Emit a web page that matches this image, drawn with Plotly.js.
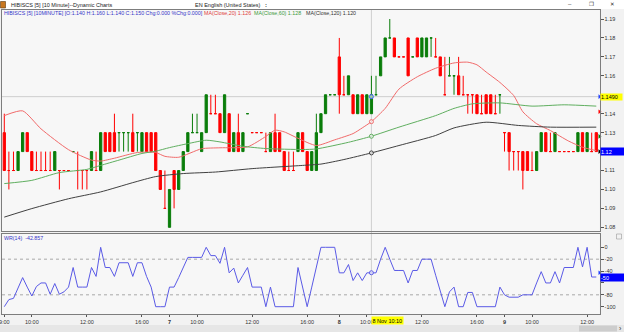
<!DOCTYPE html>
<html><head><meta charset="utf-8">
<script src="https://cdn.plot.ly/plotly-3.0.1.min.js"></script>
<style>html,body{margin:0;padding:0;background:#f0f0f0;overflow:hidden}#chart{width:624px;height:332px}</style>
</head><body><div id="chart"></div>
<script>
// ---------- data ----------
const opens = [
1.13,1.11,1.11,1.11,1.12,1.13,1.12,1.11,1.11,1.11,
1.11,1.11,1.11,1.11,1.11,1.12,1.11,1.11,1.11,1.11,
1.11,1.11,1.13,1.13,1.13,1.13,1.13,1.13,1.13,1.13,
1.12,1.13,1.13,1.13,1.11,1.09,1.08,1.11,1.10,1.11,
1.12,1.13,1.13,1.12,1.13,1.14,1.14,1.14,1.13,1.14,
1.12,1.13,1.12,1.14,1.13,1.13,1.13,1.12,1.12,1.13,
1.13,1.12,1.11,1.11,1.12,1.13,1.12,1.11,1.11,1.13,
1.14,1.15,1.15,1.17,1.15,1.15,1.15,1.14,1.15,1.14,
1.14,1.15,1.16,1.17,1.18,1.18,1.17,1.17,1.18,1.17,
1.18,1.17,1.17,1.18,1.17,1.17,1.15,1.16,1.16,1.16,
1.15,1.15,1.15,1.15,1.14,1.15,1.15,1.14,1.15,1.13,
1.13,1.12,1.12,1.12,1.12,1.11,1.11,1.12,1.13,1.12,
1.12,1.12,1.12,1.12,1.12,1.12,1.13,1.12,1.12,1.13];
const highs = [
1.14,1.12,1.12,1.12,1.13,1.13,1.12,1.12,1.12,1.12,
1.12,1.12,1.11,1.11,1.11,1.12,1.12,1.11,1.11,1.12,
1.12,1.13,1.13,1.13,1.14,1.13,1.13,1.13,1.14,1.13,
1.13,1.13,1.13,1.13,1.11,1.11,1.10,1.11,1.11,1.12,
1.13,1.14,1.14,1.13,1.15,1.15,1.15,1.14,1.15,1.14,
1.13,1.14,1.13,1.14,1.13,1.13,1.13,1.13,1.13,1.14,
1.13,1.12,1.12,1.12,1.13,1.13,1.12,1.12,1.14,1.14,
1.15,1.15,1.15,1.18,1.16,1.16,1.15,1.15,1.15,1.15,
1.16,1.16,1.17,1.18,1.19,1.18,1.17,1.17,1.18,1.17,
1.18,1.18,1.18,1.18,1.18,1.17,1.17,1.17,1.16,1.17,
1.16,1.15,1.15,1.15,1.15,1.15,1.15,1.15,1.15,1.13,
1.13,1.12,1.12,1.12,1.12,1.12,1.12,1.13,1.13,1.13,
1.13,1.12,1.12,1.12,1.12,1.13,1.13,1.13,1.13,1.13];
const lows = [
1.11,1.10,1.11,1.11,1.12,1.12,1.11,1.11,1.11,1.11,
1.11,1.11,1.10,1.11,1.11,1.12,1.10,1.10,1.10,1.11,
1.11,1.11,1.12,1.12,1.12,1.12,1.12,1.12,1.12,1.12,
1.12,1.12,1.12,1.11,1.10,1.09,1.08,1.09,1.10,1.11,
1.12,1.13,1.13,1.12,1.13,1.14,1.14,1.13,1.13,1.12,
1.12,1.12,1.12,1.14,1.13,1.13,1.13,1.12,1.12,1.12,
1.12,1.11,1.11,1.11,1.12,1.12,1.11,1.11,1.11,1.13,
1.14,1.15,1.15,1.14,1.15,1.15,1.14,1.14,1.14,1.14,
1.14,1.15,1.16,1.17,1.18,1.17,1.17,1.17,1.16,1.17,
1.17,1.17,1.17,1.17,1.17,1.16,1.15,1.16,1.15,1.15,
1.15,1.14,1.14,1.14,1.14,1.14,1.14,1.14,1.14,1.12,
1.11,1.11,1.11,1.10,1.11,1.11,1.11,1.12,1.12,1.12,
1.12,1.12,1.12,1.12,1.12,1.12,1.12,1.12,1.12,1.12];
const closes = [
1.11,1.11,1.11,1.12,1.13,1.12,1.11,1.11,1.11,1.11,
1.11,1.12,1.11,1.11,1.11,1.12,1.11,1.11,1.11,1.12,
1.11,1.13,1.12,1.12,1.12,1.13,1.13,1.13,1.12,1.13,
1.13,1.12,1.12,1.11,1.10,1.09,1.10,1.10,1.11,1.12,
1.13,1.13,1.13,1.13,1.15,1.14,1.14,1.13,1.15,1.12,
1.13,1.12,1.13,1.14,1.13,1.13,1.13,1.12,1.13,1.12,
1.12,1.11,1.11,1.11,1.13,1.12,1.11,1.12,1.13,1.14,
1.15,1.15,1.15,1.15,1.15,1.16,1.14,1.15,1.14,1.15,
1.15,1.15,1.17,1.18,1.18,1.17,1.17,1.17,1.16,1.17,
1.17,1.18,1.18,1.18,1.17,1.16,1.15,1.16,1.16,1.15,
1.15,1.15,1.15,1.14,1.14,1.14,1.14,1.14,1.15,1.13,
1.12,1.12,1.12,1.11,1.11,1.11,1.12,1.13,1.12,1.12,
1.13,1.12,1.12,1.12,1.12,1.13,1.12,1.13,1.12,1.12];
const wr = [
-100,-88,-86,-68,-51,-67,-82,-66,-60,-60,
-79,-61,-79,-75,-67,-34,-67,-67,-67,-34,
-49,0,-34,-34,-49,-26,-26,-26,-49,-26,
-26,-49,-67,-100,-100,-100,-67,-67,-51,-34,
-17,-17,-17,-17,0,-14,-14,-27,0,-43,
-35,-60,-47,-34,-67,-67,-67,-100,-67,-100,
-100,-100,-100,-100,-34,-67,-100,-67,-33,0,
0,0,0,-43,-43,-29,-56,-43,-56,-43,
-42.857,-43,-20,0,-20,-39,-39,-39,-60,-39,
-39,-20,-20,-20,-47,-75,-100,-75,-67,-100,
-100,-76,-76,-100,-100,-100,-100,-100,-67,-80,
-84,-84,-84,-80,-80,-80,-60,-41,-60,-60,
-41,-60,-34,-34,-34,0,-33,0,-50,-50];
// moving averages, sampled along the bars
const ma20X = [0,4,8,14,19,21,24,29,33,35,38,43,47,53,57,59,61,64,68,72,76,78,80,83,86,90,94,98,101,103,105,108,111,113,116,119,123,126,129];
const ma20Y = [1.139,1.1415,1.132,1.121,1.1155,1.115,1.1165,1.1195,1.1195,1.1175,1.117,1.1215,1.122,1.1225,1.128,1.1313,1.1304,1.127,1.1232,1.1262,1.1295,1.1325,1.1358,1.1428,1.153,1.1595,1.164,1.1668,1.1672,1.1658,1.162,1.1565,1.1496,1.141,1.1347,1.1311,1.1255,1.1223,1.1205];
const ma60X = [0,6,12,18,21,25,30,33,36,40,44,47,52,57,65,68,75,80,86,94,98,102,108,115,122,129];
const ma60Y = [1.1031,1.1048,1.1089,1.1106,1.1127,1.1155,1.119,1.1202,1.1221,1.1242,1.126,1.1251,1.1228,1.1216,1.1211,1.1214,1.1249,1.1281,1.1329,1.139,1.1428,1.1452,1.1457,1.144,1.1447,1.144];
const ma120X = [0,6,14,21,28,33,39,46,54,65,69,74,80,86,94,98,105,112,119,129];
const ma120Y = [1.0854,1.0899,1.0951,1.0987,1.1036,1.1068,1.1084,1.1092,1.111,1.1127,1.1134,1.1158,1.1193,1.1232,1.1285,1.1325,1.1355,1.1338,1.1329,1.1329];
const priceTicks = [1.08,1.09,1.10,1.11,1.12,1.13,1.14,1.15,1.16,1.17,1.18,1.19];
const wrTicks = [0,-20,-40,-60,-80,-100];
const wrLevels = [-20,-80];
const timeTickIdx = [0,6,18,30,36,42,54,66,73,79,91,103,109,115,127];
const timeTickText = ['9:00','10:00','12:00','16:00','<b>7</b>','10:00','12:00','16:00','<b>8</b>','10:00','12:00','16:00','<b>9</b>','10:00','12:00'];
const crossIdx = 80, crossLabel = '8 Nov 10:10', crossPrice = 1.149;
const maLegend = [1.126, 1.128, 1.120];
const axisMarkLevels = [1.149, 1.141, 1.128, 1.120];

// ---------- drawing ----------
const W = 624, H = 332, L = 2, R = 599.5, xEnd = 129.7;
const px = v => v / W, py = v => 1 - v / H;
const idx = closes.map((_, i) => i);
const N = closes.length;
const lastClose = closes[N - 1], lastWr = wr[N - 1];
const FONT = 'Liberation Sans, Arial, sans-serif';
const C_UP = '#0a7d0a', C_DN = '#ff0000', C_MA20 = '#f06a6a', C_MA60 = '#5fae5f', C_MA120 = '#404040', C_WR = '#5a5ae6';

// tick labels hidden under the highlighted value boxes
const priceTickText = priceTicks.map(v =>
  (Math.abs(v - crossPrice) < 0.0055 || Math.abs(v - lastClose) < 0.0055) ? '' : v.toFixed(2));
const wrTickText = wrTicks.map(v => (v < lastWr && lastWr - v <= 10) ? '' : String(v));

const traces = [
  {type:'candlestick', x: idx, open: opens, high: highs, low: lows, close: closes, xaxis:'x', yaxis:'y',
   increasing:{line:{color:C_UP,width:1},fillcolor:C_UP}, decreasing:{line:{color:C_DN,width:1},fillcolor:C_DN},
   whiskerwidth:0, hoverinfo:'none'},
  {type:'scatter', mode:'lines', x: ma20X, y: ma20Y, line:{color:C_MA20,width:1,shape:'spline',smoothing:0.6}, xaxis:'x', yaxis:'y', hoverinfo:'none'},
  {type:'scatter', mode:'lines', x: ma60X, y: ma60Y, line:{color:C_MA60,width:1,shape:'spline',smoothing:0.6}, xaxis:'x', yaxis:'y', hoverinfo:'none'},
  {type:'scatter', mode:'lines', x: ma120X, y: ma120Y, line:{color:C_MA120,width:1,shape:'spline',smoothing:0.6}, xaxis:'x', yaxis:'y', hoverinfo:'none'},
  {type:'scatter', mode:'lines', x: idx, y: wr, line:{color:C_WR,width:1}, xaxis:'x2', yaxis:'y2', hoverinfo:'none'},
  // crosshair markers
  {type:'scatter', mode:'markers', x:[crossIdx,crossIdx,crossIdx,crossIdx],
   y:[ma20Y[ma20X.indexOf(crossIdx)], ma60Y[ma60X.indexOf(crossIdx)], ma120Y[ma120X.indexOf(crossIdx)], crossPrice],
   marker:{symbol:'circle', size:4, color:'rgba(255,255,255,0.6)', line:{color:[C_MA20,C_MA60,C_MA120,'#4060ff'],width:1}},
   xaxis:'x', yaxis:'y', hoverinfo:'none'},
  {type:'scatter', mode:'markers', x:[crossIdx], y:[wr[crossIdx]], marker:{symbol:'circle',size:4,color:'rgba(255,255,255,0.6)',line:{color:C_WR,width:1}}, xaxis:'x2', yaxis:'y2', hoverinfo:'none'},
  // axis value markers
  {type:'scatter', mode:'markers', x: axisMarkLevels.map(() => xEnd), y: axisMarkLevels, cliponaxis:false,
   marker:{symbol:'triangle-right', size:4, color:['#2040ff',C_DN,C_UP,'#000000']}, xaxis:'x', yaxis:'y', hoverinfo:'none'},
  {type:'scatter', mode:'markers', x:[xEnd], y:[wr[crossIdx]], cliponaxis:false,
   marker:{symbol:'triangle-right', size:4, color:'#2040ff'}, xaxis:'x2', yaxis:'y2', hoverinfo:'none'}
];

const axCommon = {showgrid:false, zeroline:false, showline:true, mirror:true, linecolor:'#7d7d7d', linewidth:1, fixedrange:true};
const layout = {
  width: W, height: H, margin:{l:0,r:0,t:0,b:0,pad:0},
  paper_bgcolor:'#f2f2f2', plot_bgcolor:'#f7f7f7', showlegend:false, hovermode:false,
  boxgap: 0.3,
  font:{family:FONT, size:5.5, color:'#333'},
  xaxis: Object.assign({}, axCommon, {domain:[px(L),px(R)], range:[-0.5,xEnd], anchor:'y', showticklabels:false, ticks:'', rangeslider:{visible:false}}),
  yaxis: Object.assign({}, axCommon, {domain:[py(231),py(9.5)], range:[1.078068,1.195016], anchor:'x', side:'right',
          tickvals: priceTicks, ticktext: priceTickText, ticks:'outside', ticklen:3, tickcolor:'#555', tickfont:{size:5.5,color:'#333'}}),
  xaxis2: Object.assign({}, axCommon, {domain:[px(L),px(R)], range:[-0.5,xEnd], anchor:'y2', ticklabeloverflow:'allow',
          tickvals: timeTickIdx, ticktext: timeTickText, ticks:'outside', ticklen:2, tickcolor:'#555', tickfont:{size:5.5,color:'#333'}}),
  yaxis2: Object.assign({}, axCommon, {domain:[py(314),py(234)], range:[-112.29,22.39], anchor:'x2', side:'right',
          tickvals: wrTicks, ticktext: wrTickText, ticks:'outside', ticklen:3, tickcolor:'#555', tickfont:{size:5.5,color:'#333'}}),
  shapes: [
    // title bar
    {type:'rect', xref:'paper', yref:'paper', x0:0, x1:1, y0:py(9), y1:1, fillcolor:'#ffffff', line:{width:0}, layer:'below'},
    {type:'rect', xref:'paper', yref:'paper', x0:px(0.5), x1:px(5.5), y0:py(8), y1:py(1.5), fillcolor:'#c8761e', line:{color:'#5a3a10',width:0.6}},
    // bottom scrollbar strip
    {type:'rect', xref:'paper', yref:'paper', x0:0, x1:1, y0:0, y1:py(325), fillcolor:'#e6e6e6', line:{width:0}, layer:'below'},
    {type:'rect', xref:'paper', yref:'paper', x0:px(579), x1:px(617), y0:py(331.5), y1:py(325.5), fillcolor:'#cdcdcd', line:{width:0}},
    // small pane button
    {type:'rect', xref:'paper', yref:'paper', x0:px(616.5), x1:px(621.5), y0:py(239), y1:py(234), fillcolor:'rgba(0,0,0,0)', line:{color:'#999',width:0.6}},
    // crosshair
    {type:'line', xref:'x', yref:'paper', x0:crossIdx, x1:crossIdx, y0:py(314), y1:py(9.5), line:{color:'#cfcfcf',width:1}, layer:'below'},
    {type:'line', xref:'paper', yref:'y', x0:px(L), x1:px(R), y0:crossPrice, y1:crossPrice, line:{color:'#cfcfcf',width:1}, layer:'below'},
    // WR reference levels
    ...wrLevels.map(v => ({type:'line', xref:'paper', yref:'y2', x0:px(L), x1:px(R), y0:v, y1:v, line:{color:'#a8a8a8',width:1,dash:'dot'}, layer:'below'}))
  ],
  annotations: [
    {xref:'paper', yref:'paper', x:px(9), y:py(4.8), xanchor:'left', yanchor:'middle', showarrow:false, text:'HIBISCS [5] [10 Minute]--Dynamic Charts', font:{size:5.5,color:'#222'}},
    {xref:'paper', yref:'paper', x:px(193), y:py(4.8), xanchor:'left', yanchor:'middle', showarrow:false, text:'EN English (United States)', font:{size:5.5,color:'#222'}},
    {xref:'paper', yref:'paper', x:px(266), y:py(4.8), xanchor:'center', yanchor:'middle', showarrow:false, text:'<b>:</b>', font:{size:6,color:'#222'}},
    {xref:'paper', yref:'paper', x:px(570), y:py(4.5), xanchor:'center', yanchor:'middle', showarrow:false, text:'–', font:{size:6,color:'#333'}},
    {xref:'paper', yref:'paper', x:px(591), y:py(4.5), xanchor:'center', yanchor:'middle', showarrow:false, text:'❐', font:{size:5.5,color:'#333',family:'DejaVu Sans'}},
    {xref:'paper', yref:'paper', x:px(612), y:py(4.5), xanchor:'center', yanchor:'middle', showarrow:false, text:'✕', font:{size:5.5,color:'#333',family:'DejaVu Sans'}},
    {xref:'paper', yref:'paper', x:px(620.5), y:py(328.5), xanchor:'center', yanchor:'middle', showarrow:false, text:'›', font:{size:7,color:'#333'}},
    // legend row
    {xref:'paper', yref:'paper', x:px(2), y:py(13.2), xanchor:'left', yanchor:'middle', showarrow:false,
     text:'HIBISCS [5] [10MINUTE] [O:'+opens[crossIdx].toFixed(3)+' H:'+highs[crossIdx].toFixed(3)+' L:'+lows[crossIdx].toFixed(3)+' C:'+closes[crossIdx].toFixed(3)+' Chg:'+(closes[crossIdx]-closes[crossIdx-1]).toFixed(3)+' %Chg:'+(0).toFixed(3)+']',
     font:{size:5.3,color:'#3434c8'}},
    {xref:'paper', yref:'paper', x:px(202), y:py(13.2), xanchor:'left', yanchor:'middle', showarrow:false, text:'MA(Close,20) '+maLegend[0].toFixed(3), font:{size:5.3,color:'#e03c3c'}},
    {xref:'paper', yref:'paper', x:px(252), y:py(13.2), xanchor:'left', yanchor:'middle', showarrow:false, text:'MA(Close,60) '+maLegend[1].toFixed(3), font:{size:5.3,color:'#3c9a3c'}},
    {xref:'paper', yref:'paper', x:px(304), y:py(13.2), xanchor:'left', yanchor:'middle', showarrow:false, text:'MA(Close,120) '+maLegend[2].toFixed(3), font:{size:5.3,color:'#333'}},
    {xref:'paper', yref:'paper', x:px(2), y:py(237.5), xanchor:'left', yanchor:'middle', showarrow:false, text:'WR(14)  '+wr[crossIdx].toFixed(3), font:{size:5.3,color:'#3434c8'}},
    // highlighted axis labels
    {xref:'paper', yref:'y', x:px(600), y:crossPrice, xanchor:'left', yanchor:'middle', showarrow:false, text:crossPrice.toFixed(4), bgcolor:'#ffff00', width:21, height:6, align:'left', borderpad:0, font:{size:5.5,color:'#000'}},
    {xref:'paper', yref:'y', x:px(600), y:lastClose, xanchor:'left', yanchor:'middle', showarrow:false, text:lastClose.toFixed(2), bgcolor:'#0000ff', width:24, height:7, align:'left', borderpad:0, font:{size:5.5,color:'#ffffff'}},
    {xref:'paper', yref:'y2', x:px(600), y:lastWr, xanchor:'left', yanchor:'middle', showarrow:false, text:String(Math.round(lastWr)), bgcolor:'#0000ff', width:24, height:7, align:'left', borderpad:0, font:{size:5.5,color:'#ffffff'}},
    {xref:'x2', yref:'paper', x:crossIdx, y:py(320.5), xanchor:'left', yanchor:'middle', showarrow:false, text:crossLabel, bgcolor:'#ffff00', borderpad:0.5, font:{size:5.5,color:'#000'}}
  ]
};

Plotly.newPlot('chart', traces, layout, {staticPlot:true, displayModeBar:false});
</script>
</body></html>
